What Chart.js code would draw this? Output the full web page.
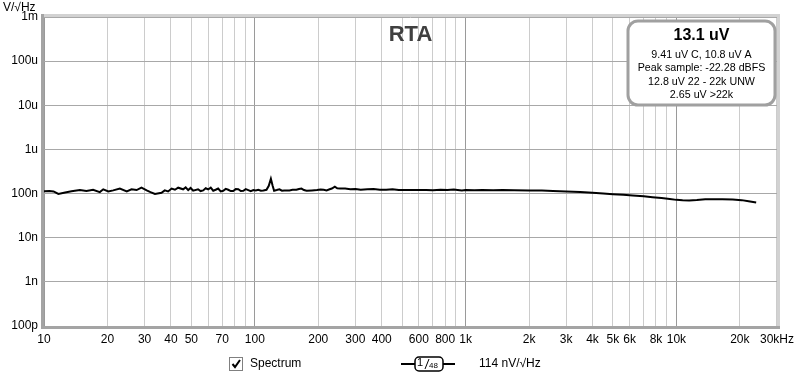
<!DOCTYPE html>
<html>
<head>
<meta charset="utf-8">
<script src="https://cdn.jsdelivr.net/npm/chart.js@4.4.1/dist/chart.umd.min.js"></script>
<style>
  html, body { margin: 0; padding: 0; background: #fff; overflow: hidden; }
  #wrap { position: relative; width: 800px; height: 378px; }
</style>
</head>
<body>
<div id="wrap"><canvas id="rta" width="800" height="378"></canvas></div>
<script>
// Spectrum trace (frequency in Hz, level in nV/sqrt(Hz))
const freq_hz = [
  10, 10.6, 11.1, 11.7, 12.6, 13.5, 14.8, 15.9, 17.1, 18.4, 19.1, 20.2, 21.3, 22.9, 24.7, 26.0, 27.5,
  29.0, 30.7, 32.0, 33.6, 36.1, 37.4, 38.8, 40.3, 41.8, 43.3, 45.7, 47.0, 48.3, 49.6, 51.0, 53.8, 55.3,
  56.9, 58.5, 60.1, 61.8, 63.5, 65.2, 67.0, 68.9, 70.8, 72.8, 74.8, 76.9, 79.0, 81.2, 83.5, 85.8, 88.2,
  90.6, 93.1, 95.7, 98.4, 101, 103.9, 106.8, 109.8, 113.6, 116.5, 119.2, 121.5, 123.5, 127, 130.9, 134.5,
  137.9, 146, 151, 157.5, 162, 166.5, 171, 176.2, 186.4, 197.2, 205, 212.1, 219, 226.5, 232, 239.7, 246,
  253.6, 268.3, 283.9, 300.4, 317.8, 342, 366, 392, 420, 450, 482, 537, 597, 650, 700, 760, 820, 880,
  916, 960, 1000, 1100, 1200, 1350, 1500, 1700, 2000, 2300, 2600, 3000, 3500, 4000, 4500, 5000, 5600,
  6200, 7000, 7700, 8500, 9300, 10000, 10700, 11500, 12500, 13700, 15000, 16500, 18500, 20400, 22000, 23900
];
const noise_nv = [
  113, 115, 112, 98, 106, 113, 120, 114, 122, 108, 125, 112, 118, 130, 112, 125, 120,
  136, 118, 108, 98, 104, 118, 112, 130, 122, 136, 125, 138, 120, 134, 116, 125, 114,
  118, 132, 124, 136, 116, 122, 130, 112, 116, 128, 122, 114, 114, 126, 125, 114, 116,
  126, 120, 114, 120, 118, 122, 116, 118, 122, 150, 217, 150, 116, 120, 125, 116,
  118, 118, 122, 122, 127, 130, 120, 116, 118, 120, 124, 122, 118, 125, 130, 143, 132,
  130, 130, 125, 127, 122, 125, 127, 122, 122, 125, 120, 120, 120, 121, 119, 122, 120, 123,
  121, 118, 121, 119, 120, 119, 120, 119, 118, 117, 115, 112, 108, 104, 100, 97, 94,
  91, 87, 83, 79, 75, 72, 70.5, 70, 71.5, 74, 74.5, 74, 73, 71, 67, 63
];

// Axis ticks and labels
const x_ticks = [
  10, 20, 30, 40, 50, 60, 70, 80, 90,
  100, 200, 300, 400, 500, 600, 700, 800, 900,
  1000, 2000, 3000, 4000, 5000, 6000, 7000, 8000, 9000,
  10000, 20000, 30000
];
const x_labels = {
  10: "10", 20: "20", 30: "30", 40: "40", 50: "50", 70: "70",
  100: "100", 200: "200", 300: "300", 400: "400", 600: "600", 800: "800",
  1000: "1k", 2000: "2k", 3000: "3k", 4000: "4k", 5000: "5k", 6000: "6k", 8000: "8k",
  10000: "10k", 20000: "20k", 30000: "30kHz"
};
const y_ticks = [1e-10, 1e-9, 1e-8, 1e-7, 1e-6, 1e-5, 1e-4, 1e-3];
const y_labels = ["100p", "1n", "10n", "100n", "1u", "10u", "100u", "1m"];

const chart_title = "RTA";
const y_unit = "V/\u221AHz";
const info_main = "13.1 uV";
const info_lines = ["9.41 uV C, 10.8 uV A", "Peak sample: -22.28 dBFS", "12.8 uV 22 - 22k UNW", "2.65 uV >22k"];
const legend_name = "Spectrum";
const legend_value = "114 nV/\u221AHz";

const FONT = '"Liberation Sans", Arial, sans-serif';

function is_decade(v) {
  const l = Math.log10(v);
  return Math.abs(l - Math.round(l)) < 1e-6;
}

function round_rect(ctx, x, y, w, h, r) {
  ctx.beginPath();
  ctx.moveTo(x + r, y);
  ctx.arcTo(x + w, y, x + w, y + h, r);
  ctx.arcTo(x + w, y + h, x, y + h, r);
  ctx.arcTo(x, y + h, x, y, r);
  ctx.arcTo(x, y, x + w, y, r);
  ctx.closePath();
}

const decorations = {
  id: "decorations",
  afterDraw(chart) {
    const ctx = chart.ctx;
    const a = chart.chartArea;
    ctx.save();

    // frame: light top/right, darker left/bottom
    ctx.fillStyle = "#d2d2d2";
    ctx.fillRect(a.left - 3, a.top - 3, a.right - a.left + 6, 3);
    ctx.fillRect(a.right, a.top - 3, 3, a.bottom - a.top + 6);
    ctx.fillStyle = "#a4a4a4";
    ctx.fillRect(a.left - 3, a.top - 3, 3, a.bottom - a.top + 6);
    ctx.fillRect(a.left - 3, a.bottom, a.right - a.left + 6, 3);

    // unit label
    ctx.fillStyle = "#000";
    ctx.font = "12px " + FONT;
    ctx.textAlign = "left";
    ctx.textBaseline = "middle";
    ctx.fillText(y_unit, 3, 8);

    // title
    ctx.fillStyle = "#404040";
    ctx.font = "bold 22px " + FONT;
    ctx.textAlign = "center";
    ctx.fillText(chart_title, (a.left + a.right) / 2, 35);

    // info box
    const bx = 628, by = 21, bw = 147, bh = 84;
    round_rect(ctx, bx, by, bw, bh, 10);
    ctx.fillStyle = "#fff";
    ctx.fill();
    ctx.lineWidth = 3;
    ctx.strokeStyle = "#a0a0a0";
    ctx.stroke();
    const cx = bx + bw / 2;
    ctx.fillStyle = "#000";
    ctx.font = "bold 16px " + FONT;
    ctx.fillText(info_main, cx, 36);
    ctx.font = "10.7px " + FONT;
    info_lines.forEach(function (t, i) {
      ctx.fillText(t, cx, 55 + i * 13.5);
    });

    // legend: checkbox + name
    const ly = 364;
    ctx.fillStyle = "#fff";
    ctx.fillRect(230, ly - 6, 12, 12);
    ctx.lineWidth = 1;
    ctx.strokeStyle = "#808080";
    ctx.strokeRect(229.5, ly - 6.5, 13, 13);
    ctx.strokeStyle = "#000";
    ctx.lineWidth = 2;
    ctx.beginPath();
    ctx.moveTo(232.5, ly);
    ctx.lineTo(235, ly + 3);
    ctx.lineTo(240, ly - 4);
    ctx.stroke();
    ctx.fillStyle = "#000";
    ctx.font = "12px " + FONT;
    ctx.textAlign = "left";
    ctx.fillText(legend_name, 250, ly);

    // legend: line sample with smoothing box
    ctx.lineWidth = 2;
    ctx.beginPath();
    ctx.moveTo(401, ly);
    ctx.lineTo(455, ly);
    ctx.stroke();
    round_rect(ctx, 415, ly - 7, 28, 14, 4);
    ctx.fillStyle = "#fff";
    ctx.fill();
    ctx.lineWidth = 1.5;
    ctx.stroke();
    ctx.fillStyle = "#000";
    ctx.font = "11px " + FONT;
    ctx.fillText("1", 417, ly - 1);
    ctx.lineWidth = 1;
    ctx.beginPath();
    ctx.moveTo(429, ly - 5);
    ctx.lineTo(425, ly + 5);
    ctx.stroke();
    ctx.font = "8px " + FONT;
    ctx.fillText("48", 429, ly + 2);
    ctx.font = "12px " + FONT;
    ctx.fillText(legend_value, 479, ly);

    ctx.restore();
  }
};

const points = freq_hz.map(function (f, i) {
  return { x: f, y: noise_nv[i] * 1e-9 };
});

new Chart(document.getElementById("rta"), {
  type: "line",
  data: {
    datasets: [
      {
        label: legend_name,
        data: points,
        borderColor: "#000",
        borderWidth: 2,
        pointRadius: 0,
        tension: 0,
        fill: false,
      },
    ],
  },
  options: {
    responsive: false,
    animation: false,
    devicePixelRatio: 1,
    layout: { padding: { top: 17, right: 22, left: 0, bottom: 0 } },
    plugins: {
      legend: { display: false },
      tooltip: { enabled: false },
    },
    scales: {
      x: {
        type: "logarithmic",
        min: 10,
        max: 30000,
        afterBuildTicks: function (axis) {
          axis.ticks = x_ticks.map(function (v) { return { value: v }; });
        },
        afterFit: function (axis) { axis.height = 52; },
        ticks: {
          autoSkip: false,
          maxRotation: 0,
          padding: 6,
          color: "#000",
          font: { family: FONT, size: 12 },
          callback: function (v) { return x_labels[v] || ""; },
        },
        grid: {
          drawTicks: false,
          lineWidth: 1,
          color: function (c) {
            return c.tick && is_decade(c.tick.value) ? "#9a9a9a" : "#cccccc";
          },
        },
        border: { display: false },
      },
      y: {
        type: "logarithmic",
        min: 1e-10,
        max: 1e-3,
        afterBuildTicks: function (axis) {
          axis.ticks = y_ticks.map(function (v) { return { value: v }; });
        },
        afterFit: function (axis) { axis.width = 44; },
        ticks: {
          padding: 6,
          color: "#000",
          font: { family: FONT, size: 12 },
          callback: function (v) {
            const i = y_ticks.findIndex(function (t) { return Math.abs(Math.log10(t) - Math.log10(v)) < 1e-6; });
            return i >= 0 ? y_labels[i] : "";
          },
        },
        grid: {
          drawTicks: false,
          lineWidth: 1,
          color: "#a8a8a8",
        },
        border: { display: false },
      },
    },
  },
  plugins: [decorations],
});
</script>
</body>
</html>
